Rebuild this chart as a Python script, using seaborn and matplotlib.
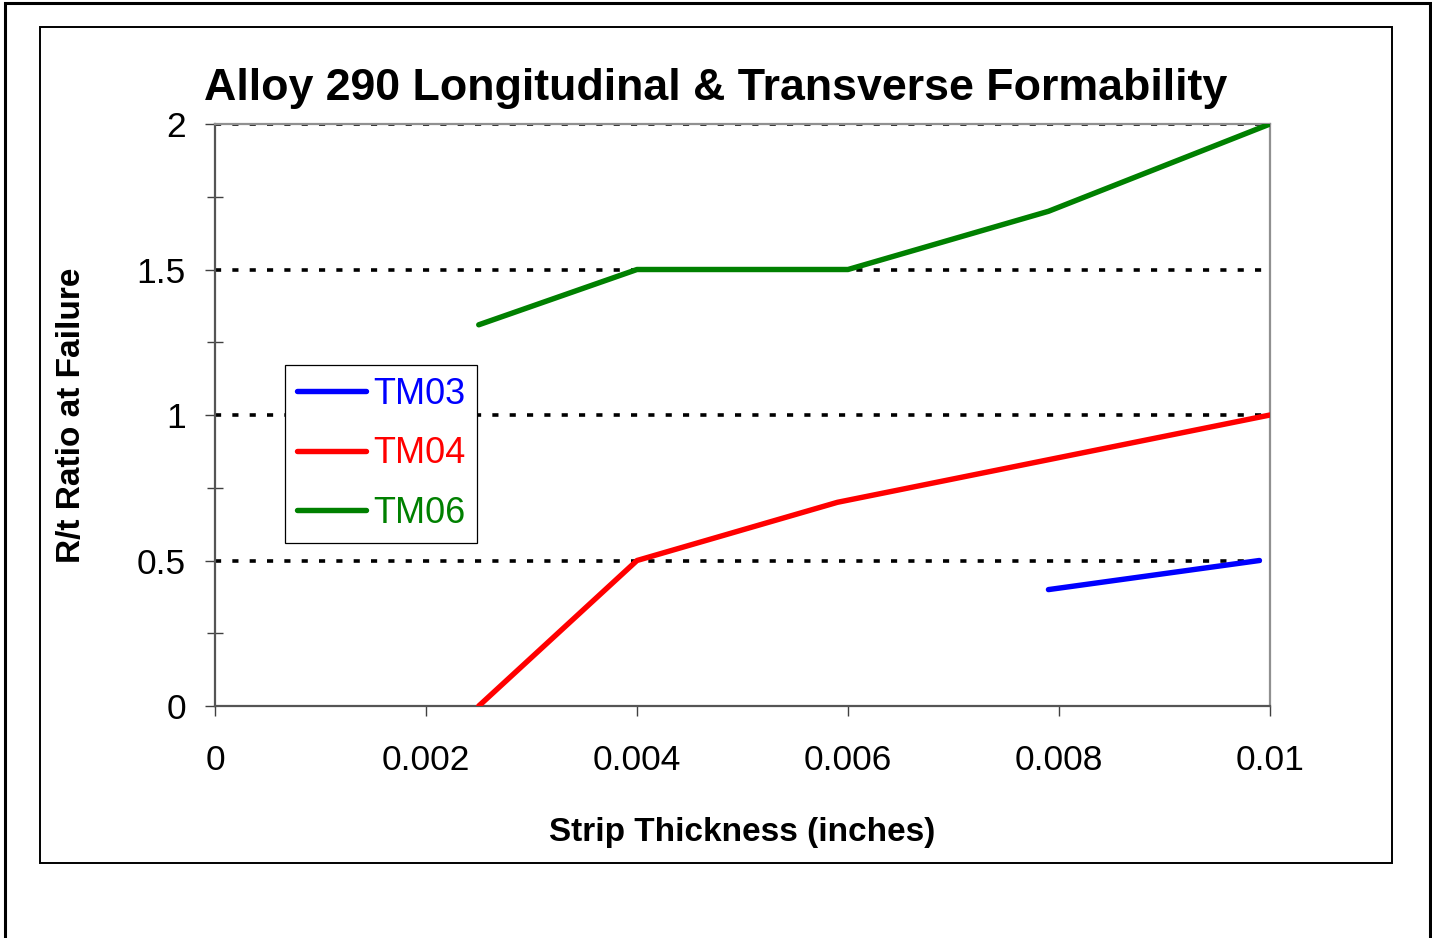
import pandas as pd
import matplotlib
matplotlib.use("Agg")
import matplotlib.pyplot as plt
import seaborn as sns
from matplotlib.patches import Rectangle
from matplotlib.ticker import MultipleLocator

#values
tm03_x = [0.0079, 0.0099]
tm03_y = [0.40, 0.50]
tm04_x = [0.0025, 0.004, 0.0059, 0.01]
tm04_y = [0.0, 0.5, 0.70, 1.0]
tm06_x = [0.0025, 0.004, 0.006, 0.0079, 0.01]
tm06_y = [1.31, 1.5, 1.5, 1.70, 2.0]
series_names = ["TM03", "TM04", "TM06"]
series_colors = ["#0000ff", "#ff0000", "#008000"]

#long-form table for seaborn
frames = []
for name, xs, ys in zip(series_names, [tm03_x, tm04_x, tm06_x], [tm03_y, tm04_y, tm06_y]):
    frames.append(pd.DataFrame({"thickness": xs, "ratio": ys, "grade": name}))
df = pd.concat(frames, ignore_index=True)

sns.set_style("white")
plt.rcParams["font.family"] = ["Liberation Sans", "DejaVu Sans"]
plt.rcParams["text.color"] = "black"
plt.rcParams["axes.labelcolor"] = "black"
plt.rcParams["xtick.color"] = "black"
plt.rcParams["ytick.color"] = "black"

fig = plt.figure(figsize=(14.32, 9.38), dpi=100)
ax = fig.add_axes([215/1432, 1-706/938, 1055/1432, 582/938])

#dotted gridlines behind the data
for yv in [0.5, 1.0, 1.5, 2.0]:
    ax.axhline(yv, color="black", lw=2.6, ls=(0, (1.7, 3.1)), zorder=1)

sns.lineplot(data=df, x="thickness", y="ratio", hue="grade", palette=series_colors,
             estimator=None, linewidth=3.9, ax=ax, zorder=3, solid_capstyle="round")

ax.set_xlim(0, 0.01)
ax.set_ylim(0, 2)
ax.set_xticks([0, 0.002, 0.004, 0.006, 0.008, 0.01])
ax.set_xticklabels(["0", "0.002", "0.004", "0.006", "0.008", "0.01"])
ax.set_yticks([0, 0.5, 1, 1.5, 2])
ax.set_yticklabels(["0", "0.5", "1", "1.5", "2"])
ax.yaxis.set_minor_locator(MultipleLocator(0.25))
ax.tick_params(axis="x", which="major", direction="out", length=7, width=1, color="#404040",
               labelsize=25.5, pad=20, bottom=True)
ax.tick_params(axis="y", which="major", direction="out", length=7, width=1, color="#404040",
               labelsize=25.5, pad=14, left=True)
ax.tick_params(axis="y", which="minor", direction="inout", length=12, width=1, color="#404040", left=True)

for side in ["left", "bottom"]:
    ax.spines[side].set_color("#555555")
    ax.spines[side].set_linewidth(1.6)
for side in ["right", "top"]:
    ax.spines[side].set_color("#909090")
    ax.spines[side].set_linewidth(1.6)

ax.set_xlabel("Strip Thickness (inches)", fontsize=24, fontweight="bold", labelpad=29)
ax.set_ylabel("R/t Ratio at Failure", fontsize=24, fontweight="bold", labelpad=36)

fig.text(0.5, 1-100/938, "Alloy 290 Longitudinal & Transverse Formability",
         ha="center", va="baseline", fontsize=32.2, fontweight="bold")

leg = ax.legend(loc="upper left", bbox_to_anchor=(70/1055, 341/582), borderaxespad=0,
                fontsize=26, handlelength=1.9, handletextpad=0.2, labelspacing=0.68,
                borderpad=0.33, fancybox=False, framealpha=1, edgecolor="black")
leg.get_frame().set_linewidth(0.9)
for txt, col in zip(leg.get_texts(), series_colors):
    txt.set_color(col)
for ln in leg.get_lines():
    ln.set_linewidth(3.9)

#chart frame and outer border
fig.patches.append(Rectangle((40/1432, 1-863/938), 1352/1432, 836/938, transform=fig.transFigure,
                             fill=False, edgecolor="black", lw=1.4))
fig.patches.append(Rectangle((5/1432, -0.05), 1425/1432, 1.05-3/938, transform=fig.transFigure,
                             fill=False, edgecolor="black", lw=2.2))

fig.savefig("out.png", dpi=100)
